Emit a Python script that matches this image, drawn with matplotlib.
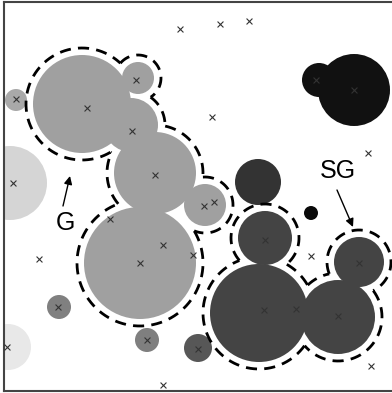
"""Grouped circles with dashed group outlines (G / SG)."""

import numpy as np
import matplotlib
matplotlib.use("Agg")
import matplotlib.pyplot as plt
from matplotlib.patches import Circle

# circles: centre x, centre y, radius, grey level, group ('' = none)
circle_x = [82, 138, 131, 155, 205, 140,
            265, 259, 338, 359,
            10, 8, 16, 59, 147, 198, 258, 311, 319, 354]
circle_y = [104, 78, 125, 173, 205, 263,
            238, 313, 317, 262,
            183, 347, 100, 307, 340, 348, 182, 213, 80, 90]
circle_r = [49, 16, 27, 41, 21, 56,
            27, 49, 37, 25,
            37, 23, 11, 12, 12, 14, 23, 7, 17, 36]
circle_shade = ["#a0a0a0"] * 6 + ["#444444"] * 4 + [
    "#d5d5d5", "#e8e8e8", "#a9a9a9", "#808080", "#7f7f7f",
    "#575757", "#333333", "#0a0a0a", "#111111", "#111111"]
circle_group = ["G"] * 6 + ["SG"] * 4 + [""] * 10

# cross markers
pts_x = [180, 220, 249, 136, 16, 87, 212, 132, 316, 354, 155, 13, 259, 368,
         204, 214, 110, 163, 265, 140, 193, 39, 311, 359, 58, 264, 296, 338,
         147, 198, 7, 371, 163]
pts_y = [29, 24, 21, 80, 99, 108, 117, 131, 80, 90, 175, 183, 182, 153,
         206, 202, 219, 245, 240, 263, 255, 259, 256, 263, 307, 310, 309, 316,
         340, 349, 347, 366, 385]

# labels: text, text position, arrow tail, arrow tip
labels = ["G", "SG"]
label_xy = [(65, 223), (338, 171)]
arrow_tail = [(63, 206), (337, 190)]
arrow_tip = [(70, 176), (353, 227)]

PAD = 7


def union_arcs(xs, ys, rs):
    """Arcs of the padded circles that lie outside every other padded circle."""
    t = np.linspace(0, 2 * np.pi, 1441)[:-1]
    arcs = []
    for i, (x, y, r) in enumerate(zip(xs, ys, rs)):
        px, py = x + r * np.cos(t), y + r * np.sin(t)
        keep = np.ones_like(t, dtype=bool)
        for j, (x2, y2, r2) in enumerate(zip(xs, ys, rs)):
            if j != i:
                keep &= np.hypot(px - x2, py - y2) > r2
        if keep.all():
            arcs.append((np.append(px, px[0]), np.append(py, py[0])))
            continue
        # start right after a hidden sample so runs do not wrap
        shift = np.argmin(keep)
        keep, px, py = np.roll(keep, -shift), np.roll(px, -shift), np.roll(py, -shift)
        edges = np.flatnonzero(np.diff(np.r_[0, keep.astype(int), 0]))
        for a, b in zip(edges[::2], edges[1::2]):
            arcs.append((px[a:b], py[a:b]))
    return arcs


fig = plt.figure(figsize=(3.92, 3.93), dpi=100)
ax = fig.add_axes([4 / 392, 2 / 393, 1.0, 389 / 393])
ax.set_xlim(4, 396)
ax.set_ylim(391, 2)
ax.set_xticks([])
ax.set_yticks([])
for s in ax.spines.values():
    s.set_color("#444444")
    s.set_linewidth(1.5)

for x, y, r, c in zip(circle_x, circle_y, circle_r, circle_shade):
    ax.add_patch(Circle((x, y), r, facecolor=c, edgecolor="none", zorder=1))

for g in ["G", "SG"]:
    sel = [k for k, grp in enumerate(circle_group) if grp == g]
    arcs = union_arcs([circle_x[k] for k in sel], [circle_y[k] for k in sel],
                      [circle_r[k] + PAD for k in sel])
    for ax_x, ax_y in arcs:
        ax.plot(ax_x, ax_y, color="black", lw=2, dashes=(4, 2.6),
                dash_capstyle="butt", zorder=2)

ax.scatter(pts_x, pts_y, marker="x", s=18, linewidths=0.8,
           color="#333333", zorder=3)

for txt, (tx, ty), tail, tip in zip(labels, label_xy, arrow_tail, arrow_tip):
    ax.text(tx, ty, txt, fontsize=18, ha="center", va="center",
            family="Liberation Sans", zorder=4)
    ax.annotate("", xy=tip, xytext=tail,
                arrowprops=dict(arrowstyle="-|>", color="black", lw=1,
                                mutation_scale=12, shrinkA=0, shrinkB=0),
                zorder=4)

fig.savefig("out.png", dpi=100)
